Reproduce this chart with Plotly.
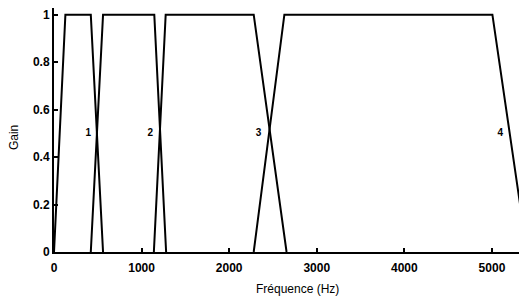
import plotly.graph_objects as go

# Filter breakpoints (Hz) and gains
filter1_freq = [0, 130, 420, 560]
filter2_freq = [420, 560, 1145, 1280]
filter3_freq = [1140, 1275, 2280, 2655]
filter4_freq = [2280, 2630, 5005, 5400]
filter_gain = [0, 1, 1, 0]

filters = [filter1_freq, filter2_freq, filter3_freq, filter4_freq]

label_text = ["1", "2", "3", "4"]
label_freq = [390, 1100, 2335, 5095]
label_gain = [0.5, 0.5, 0.5, 0.5]

x_ticks = [0, 1000, 2000, 3000, 4000, 5000]
y_ticks = [0, 0.2, 0.4, 0.6, 0.8, 1]
y_tick_text = ["0", "0.2", "0.4", "0.6", "0.8", "1"]

x_title = "Fréquence (Hz)"
y_title = "Gain"

fig = go.Figure()
for f in filters:
    fig.add_trace(go.Scatter(x=f, y=filter_gain, mode="lines",
                             line=dict(color="black", width=2),
                             showlegend=False, hoverinfo="skip", cliponaxis=False))

fig.add_trace(go.Scatter(x=label_freq, y=label_gain, mode="text", text=label_text,
                         textfont=dict(family="Liberation Sans", size=10, color="black", weight="bold"),
                         showlegend=False, hoverinfo="skip"))

# page body has an 8px margin, so the figure is sized/offset to compensate
fig.update_layout(
    width=519, height=288,
    margin=dict(l=46, r=0, t=0, b=44, autoexpand=False),
    plot_bgcolor="white", paper_bgcolor="white",
    font=dict(family="Liberation Sans", size=12, color="black"),
    annotations=[
        dict(text=x_title, xref="paper", yref="paper", x=0.514, y=-0.152,
             xanchor="center", yanchor="middle", showarrow=False,
             font=dict(family="Liberation Sans", size=12, color="black")),
        dict(text=y_title, xref="paper", yref="paper", x=-0.0846, y=0.471,
             xanchor="center", yanchor="middle", showarrow=False, textangle=-90,
             font=dict(family="Liberation Sans", size=12, color="black")),
    ],
)
fig.update_xaxes(
    range=[0, 5400], tickvals=x_ticks, ticks="inside", ticklen=4, tickwidth=1.5,
    tickcolor="black", showline=True, linecolor="black", linewidth=2,
    showgrid=False, zeroline=False, automargin=False, ticklabelstandoff=4,
    ticklabeloverflow="allow",
    tickfont=dict(family="Liberation Sans", size=12, color="black", weight="bold"),
)
fig.update_yaxes(
    range=[0, 1.028], tickvals=y_ticks, ticktext=y_tick_text, ticks="inside", ticklen=4, tickwidth=1.5,
    tickcolor="black", showline=True, linecolor="black", linewidth=2,
    showgrid=False, zeroline=False, automargin=False, ticklabelstandoff=0,
    ticklabeloverflow="allow",
    tickfont=dict(family="Liberation Sans", size=12, color="black", weight="bold"),
)

fig.write_html("out.html")
